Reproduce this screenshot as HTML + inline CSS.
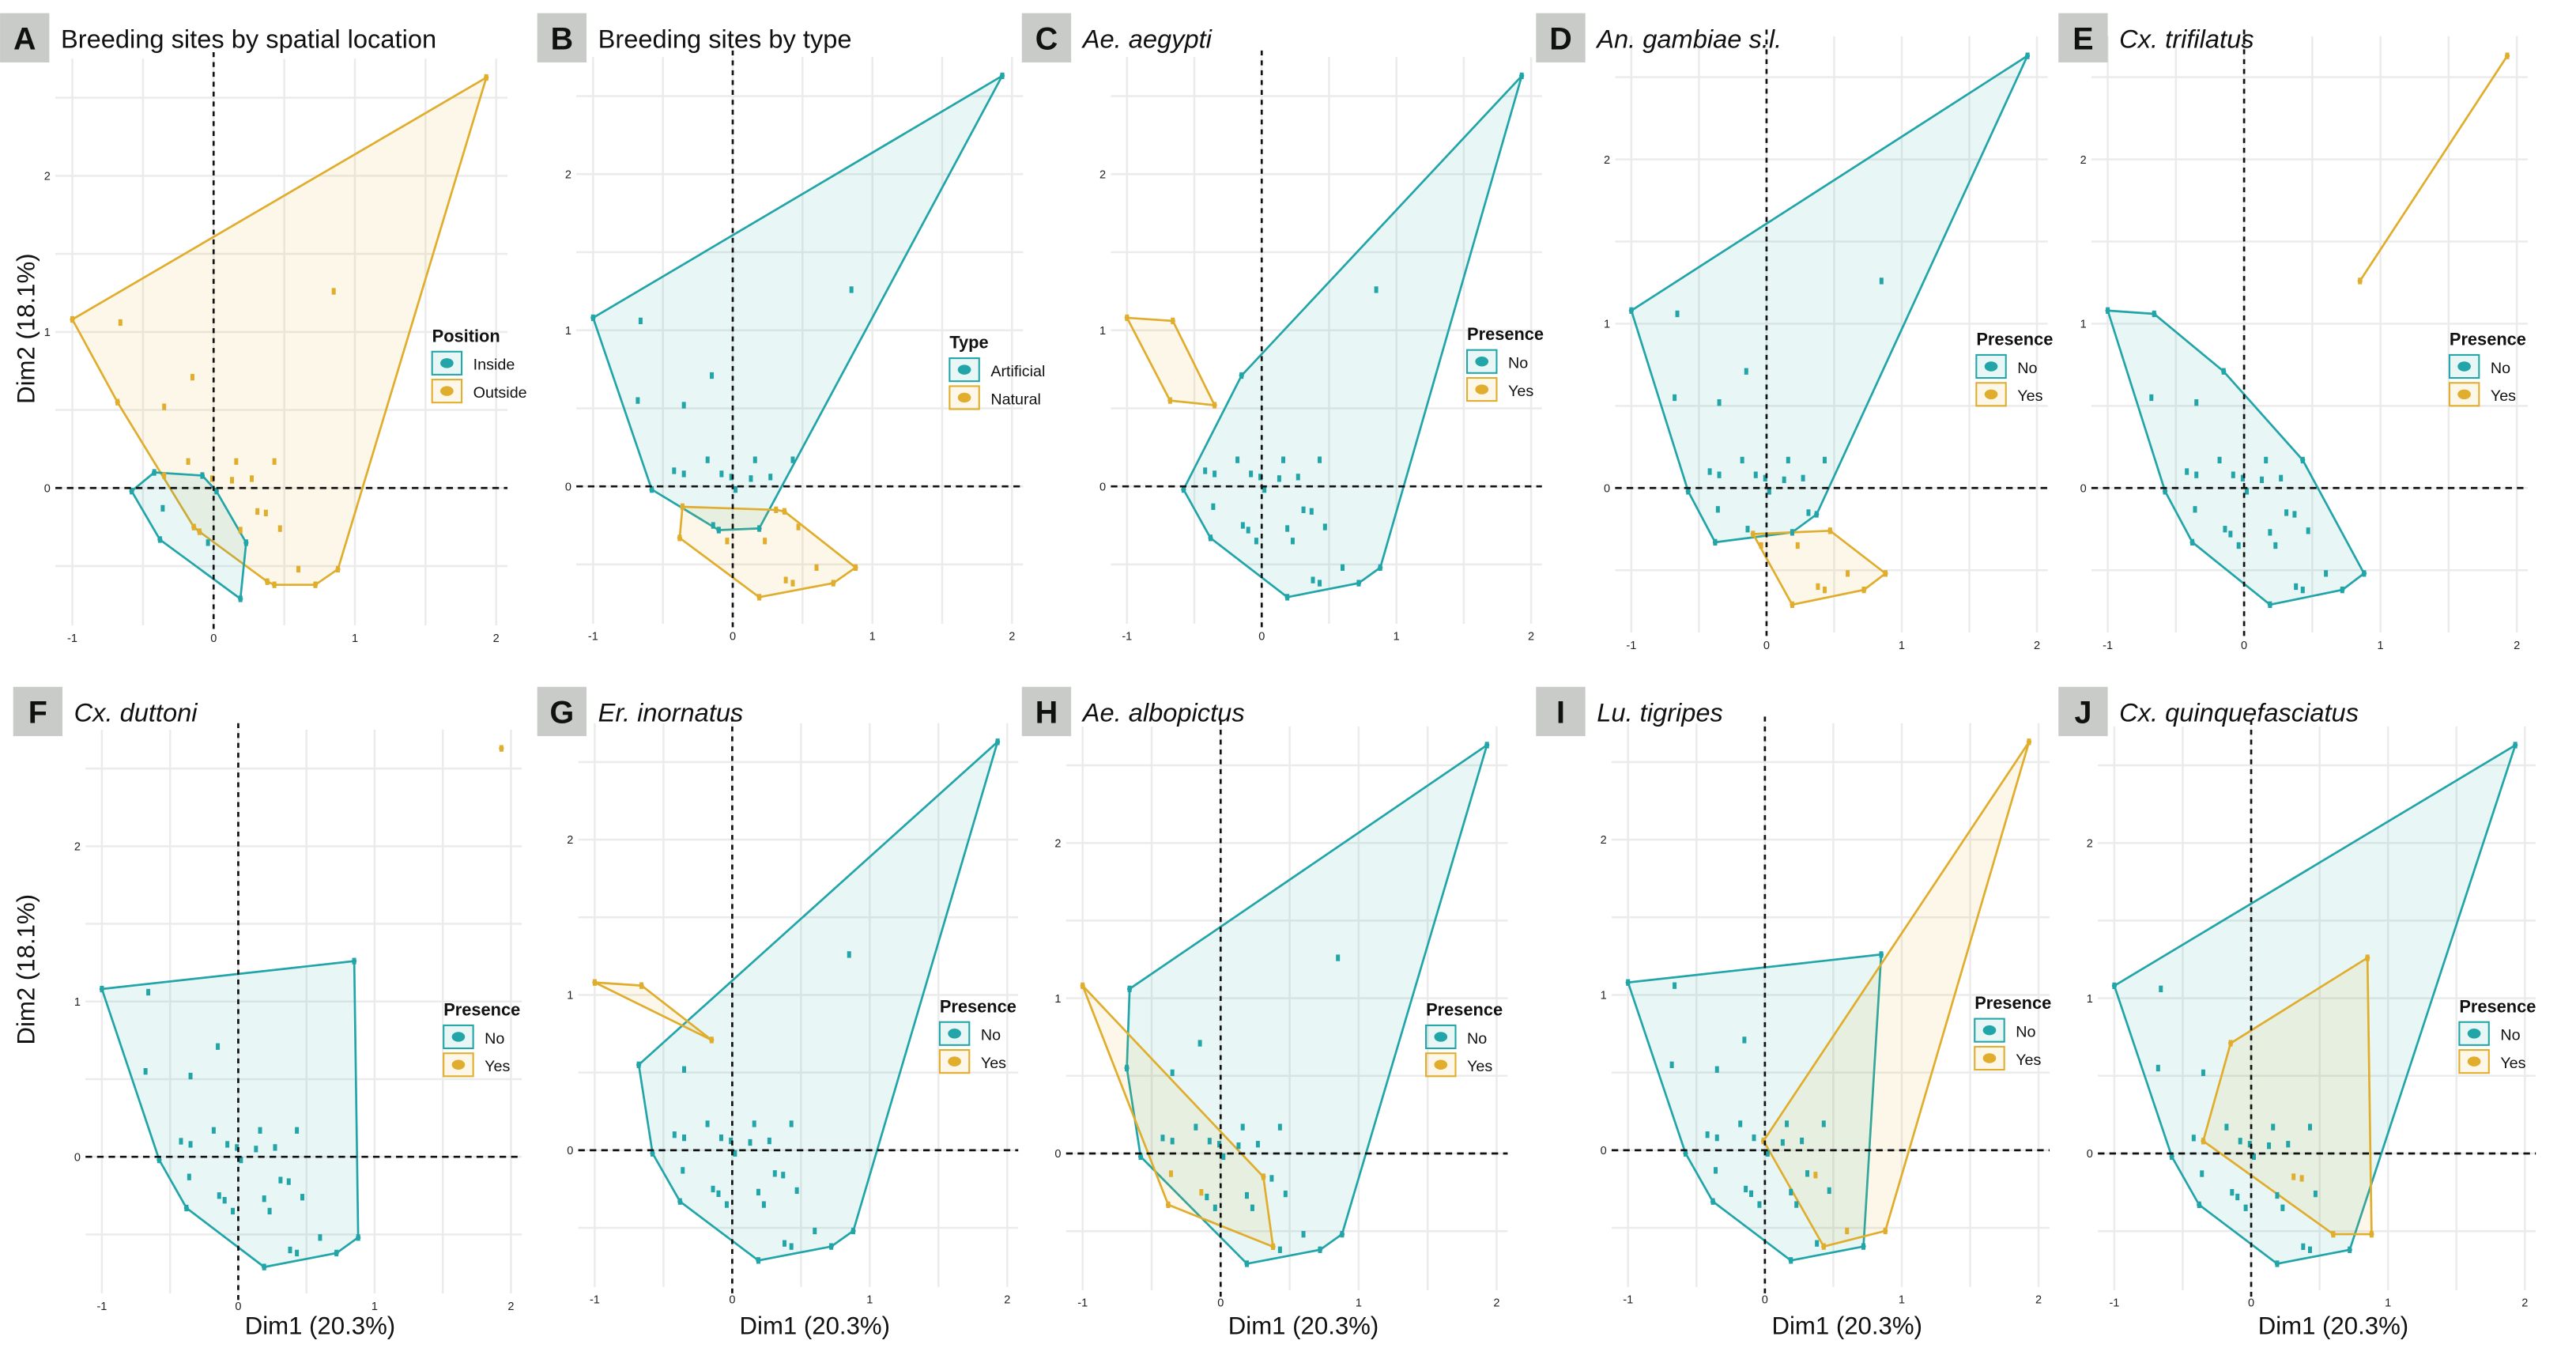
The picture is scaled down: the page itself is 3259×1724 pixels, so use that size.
<!DOCTYPE html>
<html><head><meta charset="utf-8">
<style>
html,body{margin:0;padding:0;background:#fff;}
svg{display:block;font-family:"Liberation Sans",sans-serif;}
</style></head>
<body>
<svg id="fig" width="3259" height="1724" viewBox="0 0 1568 829.5" xmlns="http://www.w3.org/2000/svg"></svg>
<script>
// Shared PCA coordinates (Dim1, Dim2)
const dim1 = [-1.00,1.93,0.85,-0.66,-0.68,-0.15,-0.35,-0.18,0.16,0.43,0.13,0.27,-0.01,0.31,0.37,0.47,0.19,0.88,0.72,0.43,0.38,0.60,-0.14,-0.10,-0.35,-0.58,-0.42,-0.08,0.02,0.23,0.19,-0.38,-0.36,-0.04];
const dim2 = [1.08,2.63,1.26,1.06,0.55,0.71,0.52,0.17,0.17,0.17,0.05,0.06,0.06,-0.15,-0.16,-0.26,-0.27,-0.52,-0.62,-0.62,-0.60,-0.52,-0.25,-0.28,0.08,-0.02,0.10,0.08,-0.02,-0.35,-0.71,-0.33,-0.13,-0.35];
// Group memberships (indices belonging to the second listed group per panel)
const groupA = [25,26,27,28,29,30,31,32,33];          // Inside (teal)
const groupB = [31,32,13,14,15,17,18,19,20,21,29,30,33]; // Natural (yellow)
const groupC = [0,3,4,6];
const groupD = [23,15,17,18,19,20,21,29,30,33];
const groupE = [2,1];
const groupF = [1];
const groupG = [0,3,5];
const groupH = [0,13,20,31,32,22];
const groupI = [1,12,19,17,14,21];
const groupJ = [24,5,2,17,21,13,14];
const xTicks = [-1,0,1,2];
const yTicks = [0,1,2];

const TEAL="#22a5a8", YEL="#e0ad2c";
const panels = [
 {id:"A",title:"Breeding sites by spatial location",it:false,x0:44,xu:86,yz:297,yu:95,lx:0,legT:"Position",labs:["Inside","Outside"],grp:groupA,grpTeal:true,lgx:263,lgy:204},
 {id:"B",title:"Breeding sites by type",it:false,x0:361,xu:85,yz:296,yu:95,lx:327,legT:"Type",labs:["Artificial","Natural"],grp:groupB,grpTeal:false,lgx:578,lgy:208},
 {id:"C",title:"Ae. aegypti",it:true,x0:686,xu:82,yz:296,yu:95,lx:622,legT:"Presence",labs:["No","Yes"],grp:groupC,grpTeal:false,lgx:893,lgy:203},
 {id:"D",title:"An. gambiae s.l.",it:true,x0:993,xu:82.3,yz:297,yu:100,lx:935,legT:"Presence",labs:["No","Yes"],grp:groupD,grpTeal:false,lgx:1203,lgy:206},
 {id:"E",title:"Cx. trifilatus",it:true,x0:1283,xu:83,yz:297,yu:100,lx:1253,legT:"Presence",labs:["No","Yes"],grp:groupE,grpTeal:false,lgx:1491,lgy:206},
 {id:"F",title:"Cx. duttoni",it:true,x0:62,xu:83,yz:704,yu:94.5,lx:8,legT:"Presence",labs:["No","Yes"],grp:groupF,grpTeal:false,lgx:270,lgy:614},
 {id:"G",title:"Er. inornatus",it:true,x0:362,xu:83.7,yz:700,yu:94.5,lx:327,legT:"Presence",labs:["No","Yes"],grp:groupG,grpTeal:false,lgx:572,lgy:612},
 {id:"H",title:"Ae. albopictus",it:true,x0:659,xu:84,yz:702,yu:94.5,lx:622,legT:"Presence",labs:["No","Yes"],grp:groupH,grpTeal:false,lgx:868,lgy:614},
 {id:"I",title:"Lu. tigripes",it:true,x0:991,xu:83.3,yz:700,yu:94.5,lx:935,legT:"Presence",labs:["No","Yes"],grp:groupI,grpTeal:false,lgx:1202,lgy:610},
 {id:"J",title:"Cx. quinquefasciatus",it:true,x0:1287,xu:83.3,yz:702,yu:94.5,lx:1253,legT:"Presence",labs:["No","Yes"],grp:groupJ,grpTeal:false,lgx:1497,lgy:612}
];
const NS="http://www.w3.org/2000/svg";
const svg=document.getElementById("fig");
function mk(tag,attrs,parent){const e=document.createElementNS(NS,tag);for(const k in attrs)e.setAttribute(k,attrs[k]);(parent||svg).appendChild(e);return e;}
function hull(pts){
  pts=pts.slice().sort((a,b)=>a[0]-b[0]||a[1]-b[1]);
  if(pts.length<3)return pts;
  const cr=(o,a,b)=>(a[0]-o[0])*(b[1]-o[1])-(a[1]-o[1])*(b[0]-o[0]);
  const lo=[],up=[];
  for(const p of pts){while(lo.length>=2&&cr(lo[lo.length-2],lo[lo.length-1],p)<=0)lo.pop();lo.push(p);}
  for(let i=pts.length-1;i>=0;i--){const p=pts[i];while(up.length>=2&&cr(up[up.length-2],up[up.length-1],p)<=0)up.pop();up.push(p);}
  up.pop();lo.pop();return lo.concat(up);
}
panels.forEach((P,pi)=>{
  const row2=P.yz>500;
  const g=mk("g",{});
  
  
  const sx=v=>P.x0+(v+1)*P.xu, sy=v=>P.yz-v*P.yu;
  const left=sx(-1.12), right=sx(2.08), top=sy(2.75), bot=sy(-0.88);
  for(let v=-1;v<=2.001;v+=0.5){const l=mk("line",{x1:sx(v),x2:sx(v),y1:top,y2:bot,stroke:"#ebebeb","stroke-width":1.2},g);}
  for(let v=-0.5;v<=2.501;v+=0.5){const l=mk("line",{x1:left,x2:right,y1:sy(v),y2:sy(v),stroke:"#ebebeb","stroke-width":1.2},g);}
  const inG=dim1.map((_,i)=>P.grp.includes(i));
  const groups=[{sel:false,col:P.grpTeal?YEL:TEAL},{sel:true,col:P.grpTeal?TEAL:YEL}];
  groups.forEach(G=>{
    const pts=[];dim1.forEach((x,i)=>{if(inG[i]===G.sel)pts.push([x,dim2[i]]);});
    const h=hull(pts);
    const d=h.map(p=>sx(p[0]).toFixed(1)+","+sy(p[1]).toFixed(1)).join(" ");
    const poly=mk(h.length>2?"polygon":"polyline",{points:d,fill:h.length>2?G.col:"none","fill-opacity":0.1,stroke:G.col,"stroke-width":1.3},g);
    
    
    h.forEach(p=>{mk("circle",{cx:sx(p[0]),cy:sy(p[1]),r:1.5,fill:G.col},g);});
  });
  dim1.forEach((x,i)=>{
    const col=inG[i]?(P.grpTeal?TEAL:YEL):(P.grpTeal?YEL:TEAL);
    const r=mk("rect",{x:sx(x)-1.2,y:sy(dim2[i])-2,width:2.4,height:4,fill:col},g);
    
    
  });
  mk("line",{x1:sx(0),x2:sx(0),y1:top-4,y2:bot+4,stroke:"#111","stroke-width":1.3,"stroke-dasharray":"3,3"},g);
  mk("line",{x1:left,x2:right,y1:sy(0),y2:sy(0),stroke:"#111","stroke-width":1.3,"stroke-dasharray":"4,3"},g);
  xTicks.forEach(v=>{const t=mk("text",{x:sx(v),y:bot+10,"font-size":7,"text-anchor":"middle",fill:"#222"},g);t.textContent=v;});
  yTicks.forEach(v=>{const t=mk("text",{x:left-3,y:sy(v)+2.5,"font-size":7,"text-anchor":"end",fill:"#222"},g);t.textContent=v;});
  const ty=row2?418:8;
  const b=mk("rect",{x:P.lx,y:ty,width:30,height:30,fill:"#c9cbc8"},g);
  const lt=mk("text",{x:P.lx+15,y:ty+22,"font-size":19,"font-weight":"bold","text-anchor":"middle",fill:"#111"},g);lt.textContent=P.id;
  const tt=mk("text",{x:P.lx+37,y:ty+21,"font-size":15.7,fill:"#111","font-style":P.it?"italic":"normal"},g);tt.textContent=P.title;
  const lg=mk("g",{},g);
  const lgt=mk("text",{x:P.lgx,y:P.lgy+4,"font-size":10.5,"font-weight":"bold",fill:"#111"},lg);lgt.textContent=P.legT;
  const cols=[TEAL,YEL];
  P.labs.forEach((lab,k)=>{
    const yy=P.lgy+10+k*17;
    mk("rect",{x:P.lgx,y:yy,width:18,height:14,fill:cols[k],"fill-opacity":0.1,stroke:cols[k],"stroke-width":1},lg);
    mk("ellipse",{cx:P.lgx+9,cy:yy+7,rx:4,ry:3,fill:cols[k]},lg);
    const lt2=mk("text",{x:P.lgx+25,y:yy+11,"font-size":9.5,fill:"#111"},lg);lt2.textContent=lab;
    
  });
  if(row2){const xt=mk("text",{x:sx(0.6),y:812,"font-size":15,"text-anchor":"middle",fill:"#111"},g);xt.textContent="Dim1 (20.3%)";}
});
[200,590].forEach(cy=>{
  const t=mk("text",{x:0,y:0,"font-size":15,"text-anchor":"middle",fill:"#111",transform:"translate(21,"+cy+") rotate(-90)"});
  t.textContent="Dim2 (18.1%)";
  
  
});
</script>
</body></html>
